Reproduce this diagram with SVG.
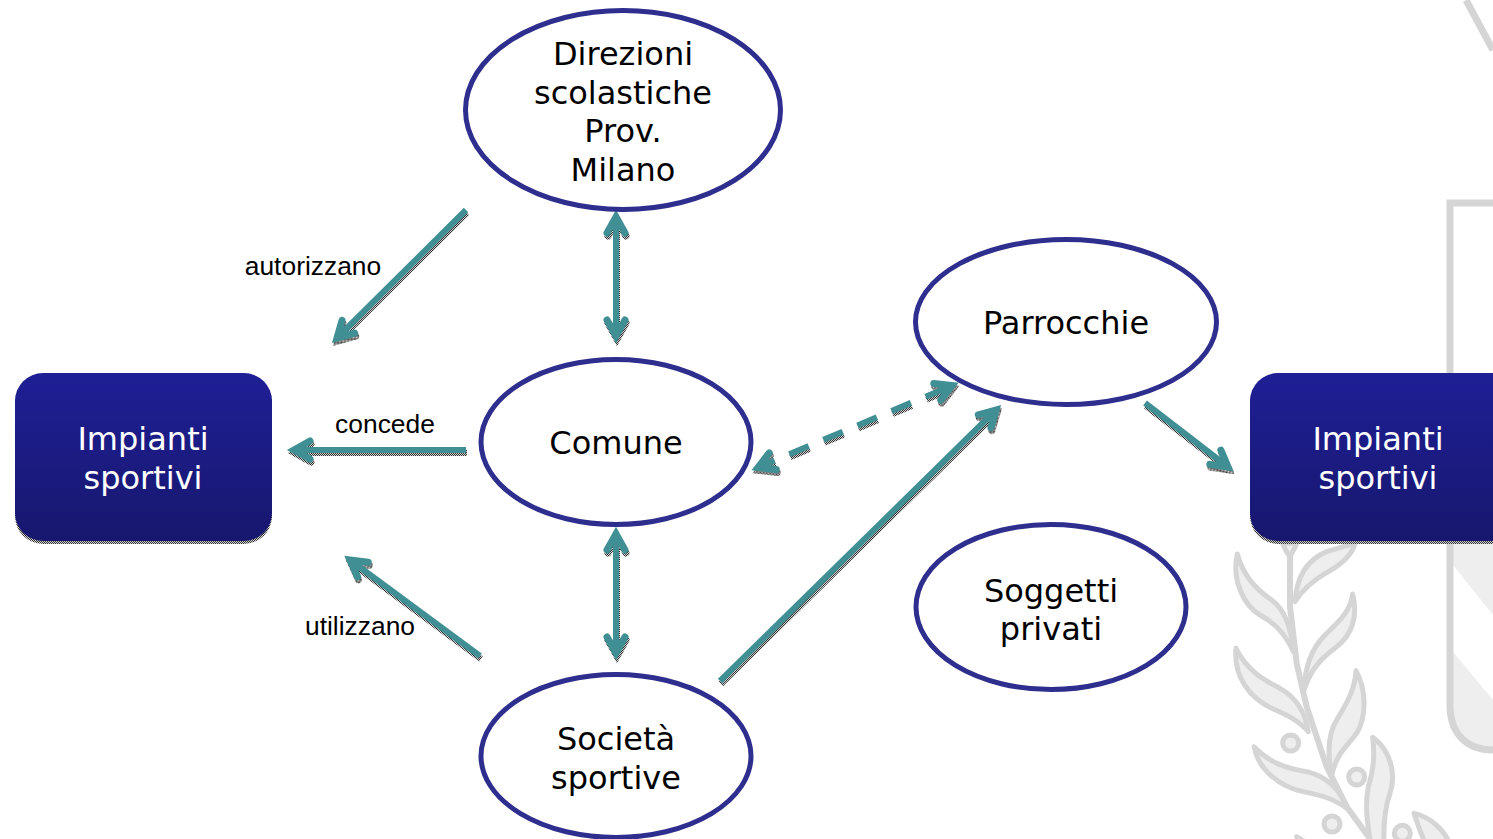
<svg xmlns="http://www.w3.org/2000/svg" width="1493" height="839" viewBox="0 0 1493 839">
<style>
.n{fill:#fff;stroke:#2e2e8e;stroke-width:5}
.t{font-family:"DejaVu Sans",Verdana,sans-serif;font-size:32px;text-anchor:middle;fill:#000}
.w{fill:#fff}
.l{font-family:"Liberation Sans",Arial,sans-serif;font-size:26.400px;text-anchor:middle;fill:#000}
.c{fill:none;stroke:#3f8f94;stroke-width:6}
.s{fill:none;stroke:url(#chk);stroke-width:6}
.a{marker-end:url(#h)}
.b{marker-start:url(#h);marker-end:url(#h)}
.as{marker-end:url(#hs)}
.bs{marker-start:url(#hs);marker-end:url(#hs)}
.d{stroke-dasharray:21 16;stroke-dashoffset:3}
.lf{fill:#eee;stroke:#d5d5d5;stroke-width:15;stroke-linejoin:round}
.st{fill:none;stroke:#d5d5d5;stroke-width:18}
</style>
<defs>
<pattern id="chk" width="2" height="2" patternUnits="userSpaceOnUse"><rect width="2" height="2" fill="#d0d0d0"/><rect width="1" height="1" fill="#333"/><rect x="1" y="1" width="1" height="1" fill="#333"/></pattern>
<linearGradient id="g" x1="0" y1="0" x2="0" y2="1"><stop offset="0" stop-color="#1f1f96"/><stop offset="1" stop-color="#17176e"/></linearGradient>
<marker id="h" markerUnits="userSpaceOnUse" overflow="visible" orient="auto-start-reverse" markerWidth="30" markerHeight="30" refX="0" refY="0"><path d="M-16,-9L0,0L-16,9" fill="none" stroke="#3f8f94" stroke-width="7" stroke-linecap="round"/></marker>
<marker id="hs" markerUnits="userSpaceOnUse" overflow="visible" orient="auto-start-reverse" markerWidth="30" markerHeight="30" refX="0" refY="0"><path d="M-16,-9L0,0L-16,9" fill="none" stroke="url(#chk)" stroke-width="7" stroke-linecap="round"/></marker>
</defs>
<g id="background">
<path d="M1453,540H1493V615L1453,565ZM1453,652L1493,700V753H1490C1468,753 1453,735 1453,710Z" fill="#eee"/>
<path d="M1493,203H1450V705C1450,735 1468,750 1493,750" fill="none" stroke="#d5d5d5" stroke-width="7"/>
<path d="M1466,0L1493,50" fill="none" stroke="#d5d5d5" stroke-width="7"/>
<g transform="translate(1200,520) scale(.33333)">
<path class="st" d="M270,60V260L290,430L320,560L380,740L440,860L520,970"/>
<path class="lf" d="M248,70C255,90 262,100 270,110C278,95 285,85 290,70Z"/>
<path class="lf" d="M285,245C290,170 320,120 380,95C410,85 450,75 465,70C455,110 420,135 385,155C340,180 310,205 285,245Z"/>
<path class="lf" d="M112,102C130,170 170,210 215,240C250,265 275,320 280,395C255,340 225,310 180,285C130,255 95,180 112,102Z"/>
<path class="lf" d="M458,222C450,280 410,310 375,345C340,380 315,430 312,510C335,440 370,410 410,380C455,345 475,290 458,222Z"/>
<path class="lf" d="M108,385C140,450 190,480 240,505C285,530 315,570 325,635C295,600 260,585 215,565C150,535 100,470 108,385Z"/>
<path class="lf" d="M468,452C465,510 440,550 410,600C385,640 380,690 395,765C410,700 440,680 470,640C500,590 500,510 468,452Z"/>
<path class="lf" d="M162,680C210,730 260,745 320,755C380,770 420,805 440,865C400,835 360,825 310,815C240,800 175,750 162,680Z"/>
<path class="lf" d="M518,652C525,710 520,750 505,800C495,850 500,900 512,970H552C550,900 555,860 570,820C590,760 570,690 518,652Z"/>
<path class="lf" d="M642,880C655,920 665,950 680,975H750C735,930 690,890 642,880Z"/>
<path class="lf" d="M290,950L330,975L300,975Z"/>
<circle class="lf" cx="272" cy="669" r="24"/>
<circle class="lf" cx="470" cy="771" r="24"/>
<circle class="lf" cx="396" cy="912" r="24"/>
<circle class="lf" cx="607" cy="940" r="24"/>
</g>
</g>
<g id="connectors">
<g transform="translate(1,3)">
<path class="s as" d="M466,210L337,338"/>
<path class="s bs" d="M616,217V336"/>
<path class="s as" d="M466,450H294"/>
<path class="s as" d="M480,656L350,560"/>
<path class="s bs" d="M616,534V653"/>
<path class="s bs d" d="M758,467.500L952,385.500"/>
<path class="s as" d="M720,681L996,410"/>
<path class="s as" d="M1145,403L1228,467"/>
</g>
<path class="c a" d="M466,210L337,338"/>
<path class="c b" d="M616,217V336"/>
<path class="c a" d="M466,450H294"/>
<path class="c a" d="M480,656L350,560"/>
<path class="c b" d="M616,534V653"/>
<path class="c b d" d="M758,467.500L952,385.500"/>
<path class="c a" d="M720,681L996,410"/>
<path class="c a" d="M1145,403L1228,467"/>
<text class="l" x="313" y="275">autorizzano</text>
<text class="l" x="385" y="433">concede</text>
<text class="l" x="360" y="635">utilizzano</text>
</g>
<g id="direzioni">
<ellipse class="n" cx="623" cy="110" rx="157.500" ry="99.500"/>
<text class="t" x="623" y="65">Direzioni</text>
<text class="t" x="623" y="104">scolastiche</text>
<text class="t" x="623" y="142">Prov.</text>
<text class="t" x="623" y="181">Milano</text>
</g>
<g id="comune">
<ellipse class="n" cx="616" cy="442" rx="135" ry="82.500"/>
<text class="t" x="616" y="454">Comune</text>
</g>
<g id="societa">
<ellipse class="n" cx="616" cy="756" rx="135" ry="81.500"/>
<text class="t" x="616" y="750">Società</text>
<text class="t" x="616" y="789">sportive</text>
</g>
<g id="parrocchie">
<ellipse class="n" cx="1066" cy="322" rx="150.500" ry="82.500"/>
<text class="t" x="1066" y="334">Parrocchie</text>
</g>
<g id="soggetti">
<ellipse class="n" cx="1051" cy="607" rx="135" ry="82.500"/>
<text class="t" x="1051" y="602">Soggetti</text>
<text class="t" x="1051" y="640">privati</text>
</g>
<g id="impianti-left">
<rect x="15" y="377" width="257" height="167" rx="28" fill="url(#chk)"/>
<rect x="15" y="373" width="257" height="168" rx="28" fill="url(#g)"/>
<text class="t w" x="143" y="450">Impianti</text>
<text class="t w" x="143" y="489">sportivi</text>
</g>
<g id="impianti-right">
<rect x="1250" y="377" width="270" height="167" rx="28" fill="url(#chk)"/>
<rect x="1250" y="373" width="270" height="168" rx="28" fill="url(#g)"/>
<text class="t w" x="1378" y="450">Impianti</text>
<text class="t w" x="1378" y="489">sportivi</text>
</g>
</svg>
